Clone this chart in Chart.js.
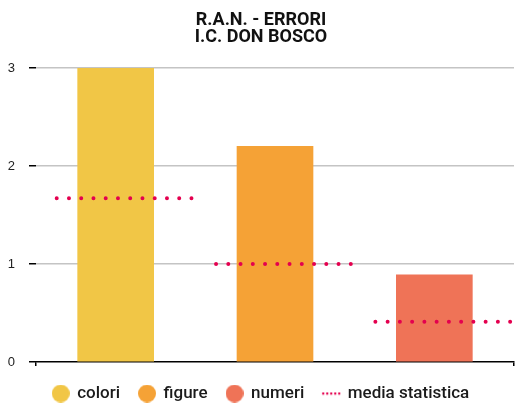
<!DOCTYPE html>
<html>
<head>
<meta charset="utf-8">
<style>
  html, body { margin: 0; padding: 0; background: #ffffff; }
  #wrap { width: 516px; height: 404px; }
</style>
<script src="https://cdn.jsdelivr.net/npm/chart.js@4/dist/chart.umd.min.js"></script>
</head>
<body>
<div id="wrap"><canvas id="chart" width="516" height="404"></canvas></div>
<script>
// Categories and values
const categories = ['colori', 'figure', 'numeri'];
const errori = [3, 2.2, 0.89];
const mediaStatistica = [1.67, 1.0, 0.41];
const mediaLabel = 'media statistica';
const titleLines = ['R.A.N. - ERRORI', 'I.C. DON BOSCO'];
const yTickValues = [0, 1, 2, 3];

// Styling
const barColors = ['#f1c646', '#f5a236', '#ef7357'];
const mediaColor = '#e4004f';
const MEDIA_START = -0.37;
const MEDIA_END = 0.48;

// Bars sit at category index positions on a numeric x axis
const barPoints = categories.map((c, i) => ({ x: i, y: errori[i] }));

// Media lines: one flat segment per category, with gaps between them
const mediaPoints = [];
mediaStatistica.forEach((v, i) => {
  mediaPoints.push({ x: i + MEDIA_START, y: v });
  mediaPoints.push({ x: i + MEDIA_END, y: v });
  mediaPoints.push({ x: i + 0.5, y: null });
});

function circleIcon(color) {
  const c = document.createElement('canvas');
  c.width = 18; c.height = 18;
  const g = c.getContext('2d');
  g.fillStyle = color;
  g.beginPath();
  g.arc(9, 9, 9, 0, Math.PI * 2);
  g.fill();
  return c;
}

function dottedIcon(color) {
  const c = document.createElement('canvas');
  c.width = 20; c.height = 4;
  const g = c.getContext('2d');
  g.fillStyle = color;
  for (let k = 0; k < 5; k++) {
    g.beginPath();
    g.arc(2 + k * 4, 2, 1.2, 0, Math.PI * 2);
    g.fill();
  }
  return c;
}

new Chart(document.getElementById('chart'), {
  type: 'bar',
  data: {
    datasets: [
      {
        label: 'errori',
        data: barPoints,
        backgroundColor: barColors,
        borderWidth: 0,
        barThickness: 76,
        order: 2
      },
      {
        type: 'line',
        label: mediaLabel,
        data: mediaPoints,
        borderColor: mediaColor,
        borderWidth: 4,
        borderDash: [0, 12.25],
        borderCapStyle: 'round',
        pointRadius: 0,
        spanGaps: false,
        fill: false,
        order: 1
      }
    ]
  },
  options: {
    responsive: false,
    animation: false,
    layout: { padding: { left: 8, right: 2, top: 0, bottom: -8 } },
    scales: {
      x: {
        type: 'linear',
        offset: false,
        min: -0.5,
        max: categories.length - 0.5,
        afterBuildTicks: (scale) => {
          scale.ticks = [{ value: -0.5 }, { value: categories.length - 0.5 }];
        },
        ticks: { display: false },
        grid: {
          offset: false,
          drawOnChartArea: false,
          tickLength: 4,
          color: '#000000',
          tickColor: '#000000',
          lineWidth: 1.5
        },
        border: { display: true, color: '#000000', width: 1.5 }
      },
      y: {
        min: 0,
        max: 3,
        afterBuildTicks: (scale) => { scale.ticks = yTickValues.map(v => ({ value: v })); },
        afterFit: (scale) => { scale.width = 28; },
        ticks: {
          padding: 14,
          color: '#222222',
          font: { family: '"Liberation Sans", Arial, sans-serif', size: 13 }
        },
        grid: {
          color: (ctx) => (ctx.tick && ctx.tick.value === 0) ? 'rgba(0,0,0,0)' : '#c4c4c4',
          tickColor: '#000000',
          lineWidth: 1.5,
          tickLength: 7
        },
        border: { display: false }
      }
    },
    plugins: {
      title: {
        display: true,
        text: titleLines,
        color: '#111111',
        font: { family: 'Roboto, sans-serif', size: 18, weight: 'bold', lineHeight: 0.96 },
        padding: { top: 11.5, bottom: 22 }
      },
      legend: {
        position: 'bottom',
        onClick: null,
        labels: {
          usePointStyle: true,
          pointStyleWidth: 16,
          boxHeight: 17,
          padding: 19,
          color: '#1b1b1b',
          font: { family: 'Roboto, sans-serif', size: 17, weight: '500' },
          generateLabels: () => {
            const items = categories.map((c, i) => ({
              text: c,
              pointStyle: circleIcon(barColors[i]),
              fillStyle: barColors[i],
              strokeStyle: barColors[i],
              lineWidth: 0,
              hidden: false,
              datasetIndex: 0,
              index: i,
              fontColor: '#1b1b1b'
            }));
            items.push({
              text: mediaLabel,
              pointStyle: dottedIcon(mediaColor),
              fillStyle: mediaColor,
              strokeStyle: mediaColor,
              lineWidth: 0,
              hidden: false,
              datasetIndex: 1,
              fontColor: '#1b1b1b'
            });
            return items;
          }
        }
      },
      tooltip: { enabled: false }
    }
  }
});
</script>
</body>
</html>
